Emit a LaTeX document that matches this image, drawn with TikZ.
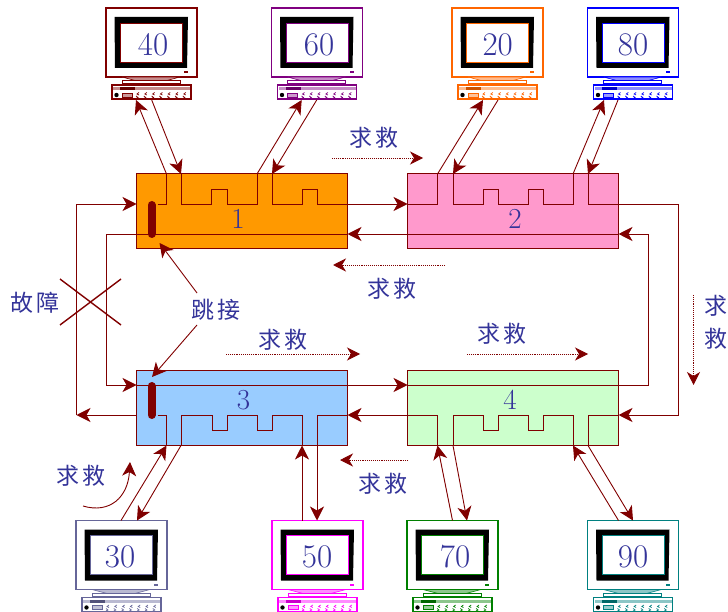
\documentclass[tikz,border=0pt]{standalone}
\usepackage{fontspec}
\usepackage{xcolor}
\usepackage{tikz}
\usetikzlibrary{arrows.meta}
\newfontfamily\cjk{Noto Sans CJK SC}
\definecolor{wirered}{HTML}{800000}
\definecolor{textblue}{HTML}{333399}
\definecolor{coB}{HTML}{FF9900}
\definecolor{ciB}{HTML}{FF99CC}
\definecolor{cjB}{HTML}{99CCFF}
\definecolor{ckB}{HTML}{CCFFCC}
\definecolor{pcslate}{HTML}{666699}
\definecolor{pcorange}{HTML}{FF6600}
\definecolor{pcpurple}{HTML}{800080}
\definecolor{pcgreen}{HTML}{008000}
\definecolor{pcteal}{HTML}{008080}
\definecolor{pcblue}{HTML}{0000FF}
\definecolor{pcpink}{HTML}{FF00FF}
\tikzset{
	ringbox/.style={draw=wirered,line width=1pt,minimum width=211pt,minimum height=75pt,inner sep=0pt,outer sep=0pt},
	pcbox/.style={fill=white,line width=1.6pt,minimum width=91pt,minimum height=69pt,inner sep=0pt,outer sep=0pt,anchor=north west},
	kbbox/.style={fill=white,line width=1.6pt,minimum width=79pt,minimum height=14pt,inner sep=0pt,outer sep=0pt,anchor=north west},
	wire/.style={draw=wirered,line width=0.9pt},
	tipwire/.style={wire,-{Stealth[length=14pt,width=14pt,inset=4pt]}},
	hintarrow/.style={draw=wirered,line width=0.9pt,densely dotted,-{Stealth[length=13pt,width=13pt,inset=4pt,fill=wirered]}},
	cjktext/.style={text=textblue,font=\cjk\fontsize{23}{33}\selectfont,inner sep=0pt},
	numtext/.style={text=textblue,font=\fontsize{33}{33}\selectfont,inner sep=0pt},
	ringnum/.style={text=textblue,font=\fontsize{29}{29}\selectfont,inner sep=0pt},
}
\begin{document}
\begin{tikzpicture}[x=1pt,y=-1pt]
	\useasboundingbox (0,0) rectangle (728,612);
	
	% four stations
	\node[ringbox,fill=coB] (b1) at (242,211.5) {};
	\node[ringbox,fill=ciB] (b2) at (513,211.5) {};
	\node[ringbox,fill=cjB] (b3) at (242,407.5) {};
	\node[ringbox,fill=ckB] (b4) at (513,407.5) {};
	
	% terminals
	\foreach \name/\mx/\my/\col/\tx in {40/106/8/wirered/47,60/271.5/8/pcpurple/47.5,20/452/8/pcorange/45.7,80/587.5/8/pcblue/45.5,
		30/76/520.5/pcslate/44,50/272/520.5/pcpink/45,70/407/520.5/pcgreen/48,90/587.5/520.5/pcteal/45.5} {
		\begin{scope}[shift={(\mx,\my)}]
			\node[pcbox,draw=\col] (m\name) at (0,0) {};
			\fill[black] (8.5,9) -- (82,9) -- (81,60) -- (9,60) -- cycle;
			\draw[\col,fill=white,line width=0.5pt] (14.5,15) rectangle (76.5,54);
			\fill[\col] (78,63.5) rectangle (82,65.5);
			% stand
			\draw[\col,fill=\col!45,line width=0.6pt] (16,69) -- (74,69) -- (59,73) -- (31,73) -- cycle;
			\draw[\col,fill=white,line width=1pt] (16,73) rectangle (74,76);
			% keyboard
			\node[kbbox,draw=\col] (k\name) at (6,77) {};
			\fill[\col!45] (7,79.5) rectangle (84,82);
			\fill[\col!80!black] (14,79.5) rectangle (29,82);
			\fill[black] (10.5,87) circle (2.2);
			\draw[\col,fill=\col!40,line width=0.4pt] (16,85) rectangle (26,89);
			\foreach \k in {0,...,6} {
				\draw[\col,line width=0.7pt] (33+\k*7.8,84.5) -- ++(-2,1.5) -- ++(2,1);
				\draw[\col,line width=0.7pt] (30+\k*7.8,88) -- ++(2,1.5) -- ++(-2,1);
			}
			\node[numtext] (t\name) at (\tx,36.5) {\name};
		\end{scope}
	}
	
	% ports on the stations
	\coordinate (b1wa) at (136.5,204);
	\coordinate (b1wb) at (136.5,234);
	\coordinate (b1ea) at (347.5,204);
	\coordinate (b1eb) at (347.5,234);
	\coordinate (b2wa) at (407.5,204);
	\coordinate (b2wb) at (407.5,234);
	\coordinate (b2ea) at (618.5,204);
	\coordinate (b2eb) at (618.5,234);
	\coordinate (b3wa) at (136.5,385);
	\coordinate (b3wb) at (136.5,415);
	\coordinate (b3ea) at (347.5,385);
	\coordinate (b3eb) at (347.5,415);
	\coordinate (b4wa) at (407.5,385);
	\coordinate (b4wb) at (407.5,415);
	\coordinate (b4ea) at (618.5,385);
	\coordinate (b4eb) at (618.5,415);
	\coordinate (c3out) at (76.5,415);
	
	% wires inside the stations
	\draw[wire] (b1wa) ++(21,0) -- (166.5,204) -- (166.5,174);
	\draw[wire] (181,174) -- (181,204) -- (211,204) -- (211,189) -- (227,189) -- (227,204) -- (257,204) -- (257,174);
	\draw[wire] (272,174) -- (272,204) -- (302,204) -- (302,189) -- (317,189) -- (317,204) -- (b1ea);
	\draw[wire] (b2wa) -- (437.5,204) -- (437.5,174);
	\draw[wire] (453,174) -- (453,204) -- (483,204) -- (483,189) -- (498,189) -- (498,204) -- (528,204) -- (528,189) -- (543,189) -- (543,204) -- (573,204) -- (573,174);
	\draw[wire] (588,174) -- (588,204) -- (b2ea);
	\draw[wire] (b3wb) ++(21,0) -- (166.5,415) -- (166.5,445);
	\draw[wire] (181,445) -- (181,415) -- (212,415) -- (212,430) -- (227,430) -- (227,415) -- (257,415) -- (257,430) -- (272,430) -- (272,415) -- (302,415) -- (302,445);
	\draw[wire] (317,445) -- (317,415) -- (b3eb);
	\draw[wire] (b4wb) -- (437.5,415) -- (437.5,445);
	\draw[wire] (453,445) -- (453,415) -- (483,415) -- (483,430) -- (498,430) -- (498,415) -- (528,415) -- (528,430) -- (543,430) -- (543,415) -- (573,415) -- (573,445);
	\draw[wire] (588,445) -- (588,415) -- (b4eb);
	
	% ring between the stations
	\draw[tipwire] (b1ea) -- (b2wa);
	\draw[tipwire] (b2ea) -- (678.5,204) -- (678.5,415) -- (b4eb);
	\draw[tipwire] (b4wb) -- (b3eb);
	\draw[tipwire] (b3wb) -- (c3out);
	\draw[tipwire] (c3out) -- (76.5,204) -- (b1wa);
	\draw[tipwire] (b1eb) -- (106,234) -- (106,385) -- (b3wa);
	\draw[tipwire] (b3wa) -- (b4wa);
	\draw[tipwire] (b4wa) -- (648,385) -- (648,234) -- (b2eb);
	\draw[tipwire] (b2eb) -- (b1eb);
	
	% terminal links
	\draw[tipwire] (166.5,174) -- (136,100);
	\draw[tipwire] (151.7,100) -- (181,174);
	\draw[tipwire] (257,174) -- (301.7,100);
	\draw[tipwire] (316.7,100) -- (272,174);
	\draw[tipwire] (437.5,174) -- (483,100);
	\draw[tipwire] (498,100) -- (453,174);
	\draw[tipwire] (573,174) -- (604,100);
	\draw[tipwire] (618,100) -- (588,174);
	\draw[tipwire] (121,520.5) -- (166.5,445.5);
	\draw[tipwire] (181,445.5) -- (137,520.5);
	\draw[tipwire] (302,520.5) -- (302,445.5);
	\draw[tipwire] (317,445.5) -- (317,520.5);
	\draw[tipwire] (452.5,520.5) -- (437.5,445.5);
	\draw[tipwire] (453,445.5) -- (467,520.5);
	\draw[tipwire] (618.5,520.5) -- (573,445.5);
	\draw[tipwire] (588,445.5) -- (633,520.5);
	
	% bypass bars
	\draw[wirered,line width=8pt,line cap=round] (151.5,205) -- (151.5,234);
	\draw[wirered,line width=8pt,line cap=round] (151.5,386) -- (151.5,415);
	
	% station numbers
	\node[ringnum] (n1) at (238,219) {1};
	\node[ringnum] (n2) at (515,219) {2};
	\node[ringnum] (n3) at (243.5,400) {3};
	\node[ringnum] (n4) at (510,400) {4};
	
	% fault mark
	\draw[wirered,line width=1.4pt] (60,279) -- (121,325);
	\draw[wirered,line width=1.4pt] (60,325) -- (121,279);
	\node[cjktext] (lfault) at (35,303) {故\,障};
	
	% bypass label
	\node[cjktext] (ljump) at (216,310) {跳\,接};
	\coordinate (j1) at (197,293);
	\coordinate (j2) at (197,325);
	\coordinate (bar1) at (159.5,243);
	\coordinate (bar3) at (152,377);
	\draw[tipwire] (j1) -- (bar1);
	\draw[tipwire] (j2) -- (bar3);
	
	% help messages
	\node[cjktext] (h1) at (374,138) {求\,救};
	\coordinate (h1a) at (332,158);
	\coordinate (h1b) at (423,158);
	\draw[hintarrow] (h1a) -- (h1b);
	\node[cjktext] (h2) at (392,289) {求\,救};
	\coordinate (h2a) at (445,265);
	\coordinate (h2b) at (333,265);
	\draw[hintarrow] (h2a) -- (h2b);
	\node[cjktext] (h3) at (283,340) {求\,救};
	\coordinate (h3a) at (226,354);
	\coordinate (h3b) at (360,354);
	\draw[hintarrow] (h3a) -- (h3b);
	\node[cjktext] (h4) at (502,334) {求\,救};
	\coordinate (h4a) at (467,354);
	\coordinate (h4b) at (588,354);
	\draw[hintarrow] (h4a) -- (h4b);
	\node[cjktext] (h5) at (383,484) {求\,救};
	\coordinate (h5a) at (408,460);
	\coordinate (h5b) at (340,460);
	\draw[hintarrow] (h5a) -- (h5b);
	\node[cjktext,align=center] (h6) at (715.5,322) {求\\救};
	\coordinate (h6a) at (693.5,295);
	\coordinate (h6b) at (693.5,385);
	\draw[hintarrow] (h6a) -- (h6b);
	\node[cjktext] (h7) at (81,476) {求\,救};
	\coordinate (h7a) at (83,506);
	\coordinate (h7b) at (130,462);
	\draw[tipwire] (h7a) .. controls (110,514) and (128,497) .. (h7b);
\end{tikzpicture}
\end{document}
